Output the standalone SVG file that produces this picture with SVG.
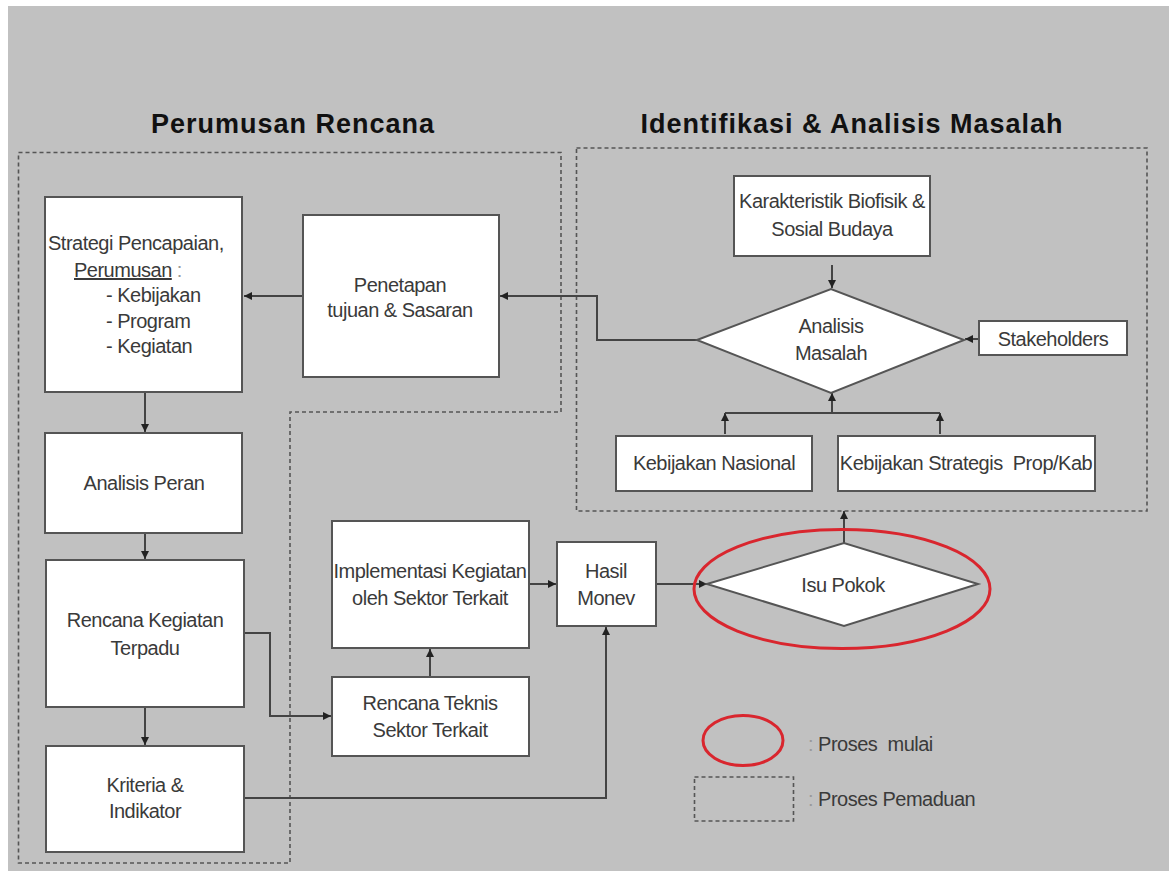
<svg xmlns="http://www.w3.org/2000/svg" width="1169" height="871" viewBox="0 0 1169 871">
<style>
.bg{fill:#c1c1c1}
.box{fill:#ffffff;stroke:#555555;stroke-width:2}
.dash{fill:none;stroke:#555555;stroke-width:1.6;stroke-dasharray:4 3}
.con{fill:none;stroke:#444444;stroke-width:2}
.t{font-family:"Liberation Sans",Arial,sans-serif;font-size:20px;letter-spacing:-0.5px;fill:#3a3a3a;text-anchor:middle}
.tl{font-family:"Liberation Sans",Arial,sans-serif;font-size:20px;letter-spacing:-0.5px;fill:#3a3a3a}
.title{font-family:"Liberation Sans",Arial,sans-serif;font-size:27px;font-weight:bold;letter-spacing:1px;fill:#111111;text-anchor:middle}
.red{fill:none;stroke:#d9262e;stroke-width:3}
.colon{fill:#9a9a9a}
</style>
<defs>
<marker id="ah" viewBox="0 0 10 10" refX="10" refY="5" markerWidth="9" markerHeight="8" markerUnits="userSpaceOnUse" orient="auto">
<path d="M0,0 L10,5 L0,10 z" fill="#222222"/>
</marker>
</defs>
<rect class="bg" x="8" y="6" width="1161" height="865"/>

<g id="titles">
<text class="title" x="293" y="133">Perumusan Rencana</text>
<text class="title" x="852" y="133">Identifikasi &amp; Analisis Masalah</text>
</g>

<g id="groups">
<path class="dash" d="M18.5,152.5 H561 V412 H290 V863 H18.5 Z"/>
<rect class="dash" x="576.5" y="148" width="570.5" height="363"/>
</g>

<g id="connectors">
<path class="con" d="M303,296 H244" marker-end="url(#ah)"/>
<path class="con" d="M697,340 H597 V296 H500" marker-end="url(#ah)"/>
<path class="con" d="M832,265 V288" marker-end="url(#ah)"/>
<path class="con" d="M979,339 H965" marker-end="url(#ah)"/>
<path class="con" d="M725,413 H940"/>
<path class="con" d="M725,434 V413" marker-end="url(#ah)"/>
<path class="con" d="M940,434 V413" marker-end="url(#ah)"/>
<path class="con" d="M832,413 V393" marker-end="url(#ah)"/>
<path class="con" d="M145,392 V432" marker-end="url(#ah)"/>
<path class="con" d="M145,533 V559" marker-end="url(#ah)"/>
<path class="con" d="M145,707 V745" marker-end="url(#ah)"/>
<path class="con" d="M244,633 H270 V716 H331" marker-end="url(#ah)"/>
<path class="con" d="M430,677 V649" marker-end="url(#ah)"/>
<path class="con" d="M529,584 H556" marker-end="url(#ah)"/>
<path class="con" d="M244,798 H606 V627" marker-end="url(#ah)"/>
<path class="con" d="M656,584 H707" marker-end="url(#ah)"/>
<path class="con" d="M844,543 V511" marker-end="url(#ah)"/>
</g>

<g id="strategi">
<rect class="box" x="45" y="197" width="197" height="195"/>
<text class="tl" x="48" y="250">Strategi Pencapaian,</text>
<text class="tl" x="74" y="277"><tspan text-decoration="underline">Perumusan</tspan><tspan class="colon"> :</tspan></text>
<text class="tl" x="106" y="302">- Kebijakan</text>
<text class="tl" x="106" y="328">- Program</text>
<text class="tl" x="106" y="353">- Kegiatan</text>
</g>

<g id="penetapan">
<rect class="box" x="303" y="215" width="196" height="162"/>
<text class="t" x="400" y="292">Penetapan</text>
<text class="t" x="400" y="317">tujuan &amp; Sasaran</text>
</g>

<g id="analisis-peran">
<rect class="box" x="45" y="433" width="197" height="100"/>
<text class="t" x="144" y="490">Analisis Peran</text>
</g>

<g id="rencana-kegiatan">
<rect class="box" x="46" y="560" width="198" height="147"/>
<text class="t" x="145" y="627">Rencana Kegiatan</text>
<text class="t" x="145" y="655">Terpadu</text>
</g>

<g id="kriteria">
<rect class="box" x="46" y="746" width="198" height="106"/>
<text class="t" x="145" y="792">Kriteria &amp;</text>
<text class="t" x="145" y="818">Indikator</text>
</g>

<g id="implementasi">
<rect class="box" x="332" y="521" width="197" height="127"/>
<text class="t" x="430" y="578">Implementasi Kegiatan</text>
<text class="t" x="430" y="605">oleh Sektor Terkait</text>
</g>

<g id="rencana-teknis">
<rect class="box" x="332" y="677" width="197" height="79"/>
<text class="t" x="430" y="710">Rencana Teknis</text>
<text class="t" x="430" y="737">Sektor Terkait</text>
</g>

<g id="hasil-monev">
<rect class="box" x="557" y="542" width="99" height="84"/>
<text class="t" x="606" y="578">Hasil</text>
<text class="t" x="606" y="605">Monev</text>
</g>

<g id="isu-pokok">
<polygon class="box" points="707,584 844,543 978,584 844,626"/>
<text class="t" x="843" y="592">Isu Pokok</text>
<ellipse class="red" cx="842" cy="589" rx="148" ry="59.5"/>
</g>

<g id="karakteristik">
<rect class="box" x="734" y="176" width="196" height="80"/>
<text class="t" x="832" y="208">Karakteristik Biofisik &amp;</text>
<text class="t" x="832" y="236">Sosial Budaya</text>
</g>

<g id="analisis-masalah">
<polygon class="box" points="697,340 831,289 964,340 831,393"/>
<text class="t" x="831" y="333">Analisis</text>
<text class="t" x="831" y="360">Masalah</text>
</g>

<g id="stakeholders">
<rect class="box" x="979" y="321" width="148" height="34"/>
<text class="t" x="1053" y="346">Stakeholders</text>
</g>

<g id="kebijakan-nasional">
<rect class="box" x="616" y="436" width="196" height="55"/>
<text class="t" x="714" y="470">Kebijakan Nasional</text>
</g>

<g id="kebijakan-strategis">
<rect class="box" x="838" y="436" width="257" height="55"/>
<text class="t" x="966" y="470" xml:space="preserve">Kebijakan Strategis  Prop/Kab</text>
</g>

<g id="legend">
<ellipse class="red" cx="743" cy="740.5" rx="40" ry="25"/>
<text class="tl" x="808" y="751" xml:space="preserve"><tspan class="colon">:</tspan> Proses  mulai</text>
<rect class="dash" x="694.5" y="777" width="99" height="44"/>
<text class="tl" x="808" y="806"><tspan class="colon">:</tspan> Proses Pemaduan</text>
</g>
</svg>
